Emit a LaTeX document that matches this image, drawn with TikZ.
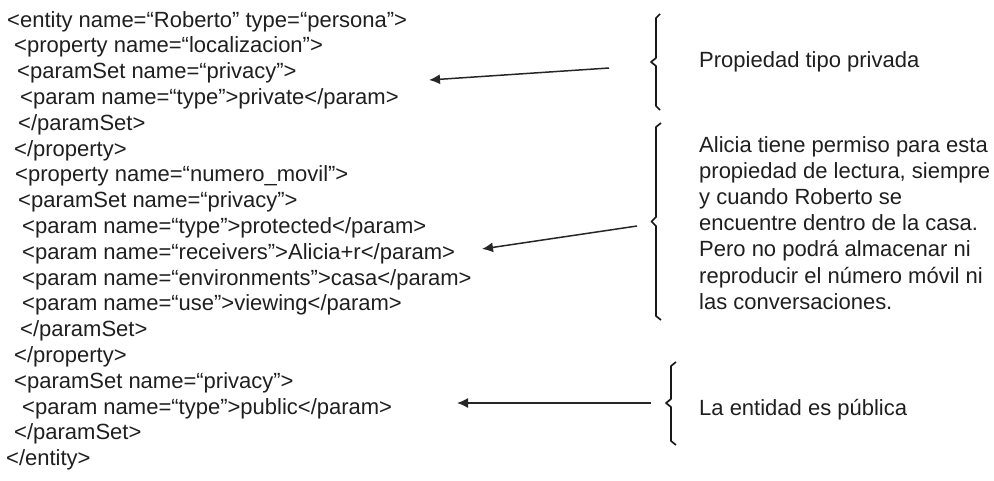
\documentclass[tikz,border=0pt]{standalone}
\usepackage{fontspec}
\setmainfont{Liberation Sans}
\usetikzlibrary{arrows.meta}
\begin{document}
\begin{tikzpicture}[x=1pt,y=-1pt,
  txt/.style={anchor=base west,inner sep=0pt,text=black!88,
    font=\fontsize{22}{26}\selectfont},
  brace/.style={line width=1.7pt,line join=round,draw=black!90},
  pointer/.style={line width=1.5pt,draw=black!85,
    -{Latex[length=11pt,width=10pt]}}]
\useasboundingbox (0,0) rectangle (994,480);

% XML listing, one node per line (baselines 25.8pt apart)
\node[txt] (l1)  at (7,27.0)    {<entity name=“Roberto” type=“persona”>};
\node[txt] (l2)  at (14,52.8)   {<property name=“localizacion”>};
\node[txt] (l3)  at (17,78.6)   {<paramSet name=“privacy”>};
\node[txt] (l4)  at (20,104.4)  {<param name=“type”>private</param>};
\node[txt] (l5)  at (18,130.2)  {</paramSet>};
\node[txt] (l6)  at (14,156.0)  {</property>};
\node[txt] (l7)  at (15,181.8)  {<property name=“numero\_movil”>};
\node[txt] (l8)  at (18,207.6)  {<paramSet name=“privacy”>};
\node[txt] (l9)  at (22,233.4)  {<param name=“type”>protected</param>};
\node[txt] (l10) at (22,259.2)  {<param name=“receivers”>Alicia+r</param>};
\node[txt] (l11) at (22,285.0)  {<param name=“environments”>casa</param>};
\node[txt] (l12) at (22,310.8)  {<param name=“use”>viewing</param>};
\node[txt] (l13) at (20,336.6)  {</paramSet>};
\node[txt] (l14) at (14,362.4)  {</property>};
\node[txt] (l15) at (14,388.2)  {<paramSet name=“privacy”>};
\node[txt] (l16) at (22,414.0)  {<param name=“type”>public</param>};
\node[txt] (l17) at (14,439.8)  {</paramSet>};
\node[txt] (l18) at (6,465.6)   {</entity>};

% explanatory notes
\node[txt] (n1) at (699,67) {Propiedad tipo privada};
\node[txt] (n2a) at (699,152.0) {Alicia tiene permiso para esta};
\node[txt] (n2b) at (699,178.2) {propiedad de lectura, siempre};
\node[txt] (n2c) at (699,204.4) {y cuando Roberto se};
\node[txt] (n2d) at (699,230.6) {encuentre dentro de la casa.};
\node[txt] (n2e) at (699,256.8) {Pero no podrá almacenar ni};
\node[txt] (n2f) at (699,283.0) {reproducir el número móvil ni};
\node[txt] (n2g) at (699,309.2) {las conversaciones.};
\node[txt] (n3) at (699,415) {La entidad es pública};

% curly braces grouping each note
\draw[brace] (660,14) -- (656,18) -- (656,58) -- (651,62) -- (656,66)
  -- (656,106) -- (660,110);
\draw[brace] (661,123) -- (656,127) -- (656,217) -- (651.5,221.5)
  -- (656,226) -- (656,316) -- (661,320);
\draw[brace] (676,362) -- (671,366) -- (671,399) -- (666,403)
  -- (671,407) -- (671,441) -- (676,445);

% pointers from the notes to the listing
\coordinate (a1) at (609,68);   \coordinate (b1) at (429,80);
\coordinate (a2) at (637,226);  \coordinate (b2) at (482,249);
\coordinate (a3) at (651,403);  \coordinate (b3) at (457,403);
\draw[pointer] (a1) -- (b1);
\draw[pointer] (a2) -- (b2);
\draw[pointer] (a3) -- (b3);
\end{tikzpicture}
\end{document}
